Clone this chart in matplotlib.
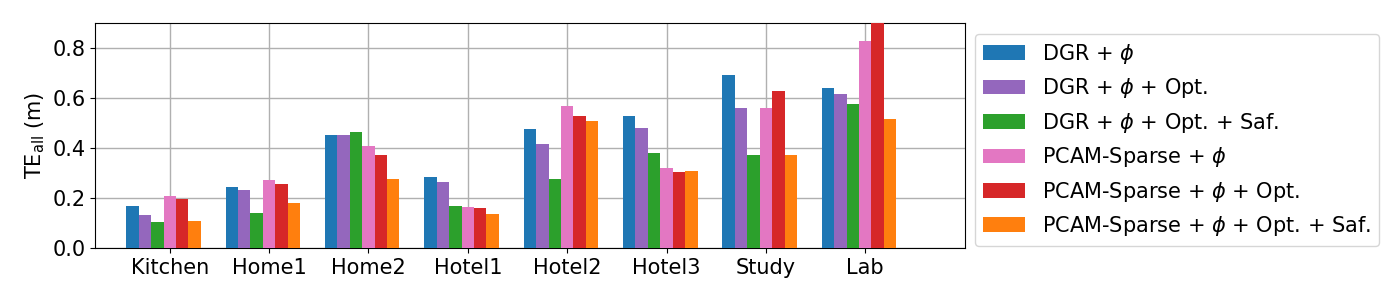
import numpy as np
import matplotlib.pyplot as plt

plt.rcParams['font.size'] = 15

# scenes on the x axis
scenes = ['Kitchen', 'Home1', 'Home2', 'Hotel1', 'Hotel2', 'Hotel3', 'Study', 'Lab']

# TE_all (m) per method
dgr = [0.168, 0.244, 0.452, 0.284, 0.476, 0.528, 0.692, 0.640]
dgr_opt = [0.132, 0.232, 0.452, 0.264, 0.416, 0.480, 0.560, 0.616]
dgr_opt_saf = [0.104, 0.140, 0.464, 0.168, 0.276, 0.380, 0.372, 0.576]
pcam = [0.208, 0.272, 0.408, 0.164, 0.568, 0.320, 0.560, 0.828]
pcam_opt = [0.196, 0.256, 0.372, 0.160, 0.528, 0.304, 0.628, 0.950]
pcam_opt_saf = [0.108, 0.180, 0.276, 0.136, 0.508, 0.308, 0.372, 0.516]

labels = [r'DGR + $\phi$', r'DGR + $\phi$ + Opt.', r'DGR + $\phi$ + Opt. + Saf.',
          r'PCAM-Sparse + $\phi$', r'PCAM-Sparse + $\phi$ + Opt.',
          r'PCAM-Sparse + $\phi$ + Opt. + Saf.']
colors = ['#1f77b4', '#9467bd', '#2ca02c', '#e377c2', '#d62728', '#ff7f0e']
series = [dgr, dgr_opt, dgr_opt_saf, pcam, pcam_opt, pcam_opt_saf]

fig = plt.figure(figsize=(14, 3), dpi=100)
ax = fig.add_axes([0.068, 0.173, 0.621, 0.75])

x = np.arange(len(scenes))
w = 0.125
for i, (vals, lab, c) in enumerate(zip(series, labels, colors)):
    ax.bar(x + (i - 3) * w, vals, w, color=c, label=lab, zorder=3)

ax.set_xticks(x)
ax.set_xticklabels(scenes)
ax.set_xlim(-0.75, 8)
ax.set_ylim(0, 0.9)
ax.set_yticks([0, 0.2, 0.4, 0.6, 0.8])
ax.set_ylabel(r'TE$_{\mathrm{all}}$ (m)')
ax.grid(True, color='#b0b0b0', linewidth=1, zorder=0)
ax.set_axisbelow(True)

ax.legend(loc='upper left', bbox_to_anchor=(1.0, 1.0), fontsize=15)

fig.savefig('out.png')
